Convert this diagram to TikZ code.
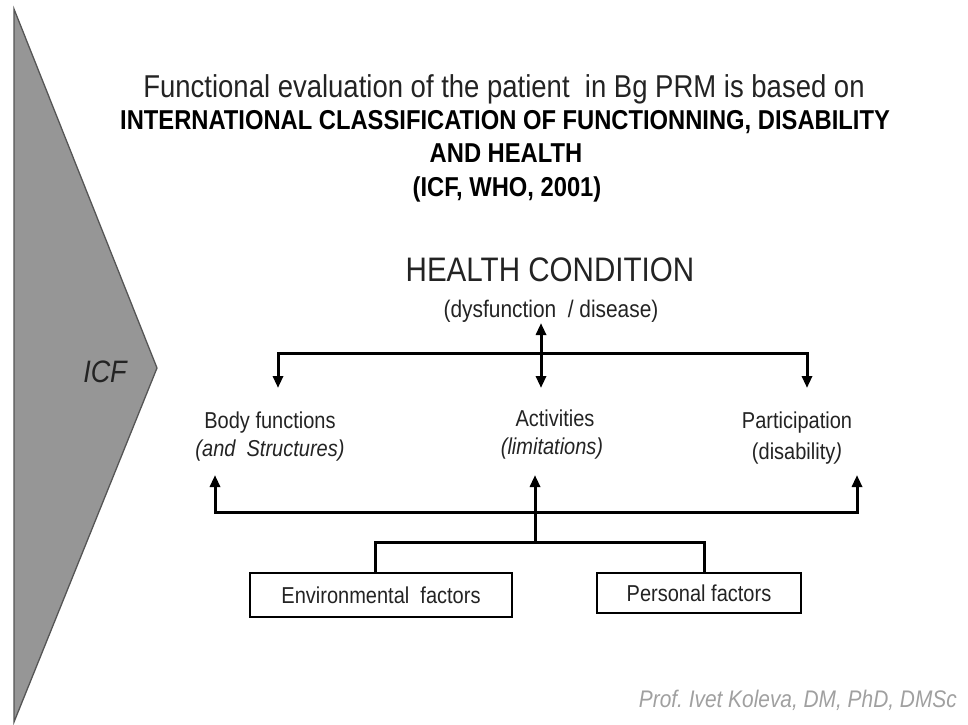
\documentclass[tikz,border=0pt]{standalone}
\usepackage{fontspec}
\setmainfont{Liberation Sans}[FakeStretch=0.87]
\usetikzlibrary{arrows.meta}
\definecolor{wedgefill}{RGB}{150,150,150}
\definecolor{wedgeedge}{RGB}{85,85,85}
\definecolor{inkgray}{RGB}{35,35,35}
\definecolor{signgray}{RGB}{160,160,160}
\newcommand{\pxfont}[1]{\fontsize{#1}{#1}\selectfont}
\tikzstyle{caption} = [inner sep=0pt, anchor=base, text=inkgray]
\tikzstyle{component} = [inner sep=0pt, anchor=base, text=inkgray, font=\pxfont{23}]
\tikzstyle{factor} = [rectangle, draw=black, line width=1.4pt, inner sep=0pt, text height=17pt, text depth=1pt, font=\pxfont{23}, text=inkgray]
\tikzstyle{link} = [line width=3pt, line join=miter]
\tikzstyle{arrowed} = [link, {Triangle[length=12pt,width=10pt]}-{Triangle[length=12pt,width=10pt]}]
\tikzstyle{oneway} = [link, -{Triangle[length=12pt,width=10pt]}]

\begin{document}
\begin{tikzpicture}[x=1pt, y=-1pt]
	\useasboundingbox (0,0) rectangle (968,724);
	\filldraw[fill=wedgefill, draw=wedgeedge, line width=1.3pt] (14,9) -- (157,368) -- (14,722) -- cycle;
	\node[caption, font=\pxfont{31}\itshape] (icf) at (105,382) {ICF};

	\node[caption, font=\pxfont{31.6}] (intro) at (504,97) {Functional evaluation of the patient\ \ in Bg PRM is based on};
	\node[caption, font=\pxfont{27.3}\bfseries, text=black] (icf-1) at (505,129) {INTERNATIONAL CLASSIFICATION OF FUNCTIONNING, DISABILITY};
	\node[caption, font=\pxfont{27.3}\bfseries, text=black] (icf-2) at (506,162) {AND HEALTH};
	\node[caption, font=\pxfont{27.3}\bfseries, text=black] (icf-3) at (507,196) {(ICF, WHO, 2001)};

	\node[caption, font=\pxfont{34}] (cond) at (550,281) {HEALTH CONDITION};
	\node[caption, font=\pxfont{24}] (cond-sub) at (551,317) {(dysfunction\ \ / disease)};

	\node[component] (body) at (270,428) {Body functions};
	\node[component, font=\pxfont{23}\itshape] (body-sub) at (270,456) {(and\ \ Structures)};
	\node[component] (act) at (555,426) {Activities};
	\node[component, font=\pxfont{23}\itshape] (act-sub) at (552,454) {(limitations)};
	\node[component] (part) at (797,428) {Participation};
	\node[component] (part-sub) at (797,459) {(disability\textit{)}};

	\node[factor, minimum width=262pt, minimum height=44pt] (env) at (381,595) {Environmental\ \ factors};
	\node[factor, minimum width=204pt, minimum height=40pt] (pers) at (699,593) {Personal factors};

	\node[inner sep=0pt, anchor=east, font=\pxfont{24}\itshape, text=signgray] (sign) at (957,700) {Prof.\ Ivet Koleva, DM, PhD, DMSc};

	\coordinate (hub) at (541,353);
	\coordinate (cond-out) at (541,323);
	\coordinate (body-in) at (278,388);
	\coordinate (act-in) at (541,388);
	\coordinate (part-in) at (807,388);
	\coordinate (bar) at (535,512);
	\coordinate (fork) at (535,542);
	\coordinate (body-up) at (215,475);
	\coordinate (act-up) at (535,475);
	\coordinate (part-up) at (857,475);

	\draw[arrowed] (body-in) -- (body-in |- hub) -- (part-in |- hub) -- (part-in);
	\draw[arrowed] (cond-out) -- (act-in);
	\draw[arrowed] (body-up) -- (body-up |- bar) -- (part-up |- bar) -- (part-up);
	\draw[oneway] (fork) -- (act-up);
	\draw[link] ([xshift=-6pt]env.north) |- (fork) -| ([xshift=5pt]pers.north);
\end{tikzpicture}
\end{document}
